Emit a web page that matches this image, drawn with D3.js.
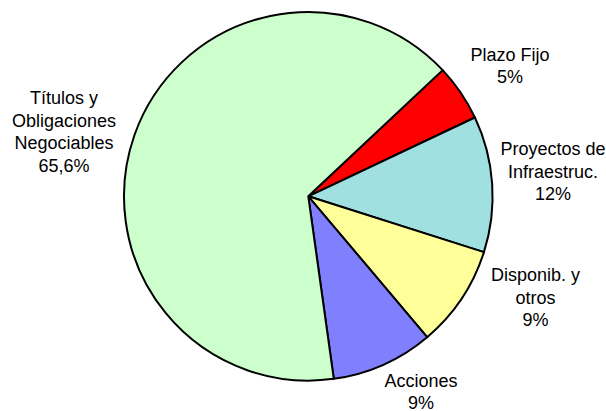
<!DOCTYPE html>
<html>
<head>
<meta charset="utf-8">
<script src="https://cdn.jsdelivr.net/npm/d3@7/dist/d3.min.js"></script>
<style>
  html, body { margin: 0; padding: 0; background: #ffffff; }
  svg { display: block; }
  text { font-family: "Liberation Sans", Arial, sans-serif; font-size: 18px; fill: #000; }
</style>
</head>
<body>
<svg id="chart" width="606" height="411"></svg>
<script>
// Portfolio composition (percent)
const categories = ["Plazo Fijo", "Proyectos de Infraestruc.", "Disponib. y otros", "Acciones", "Títulos y Obligaciones Negociables"];
const values = [5, 12, 9, 9, 65.6];
const valueLabels = ["5%", "12%", "9%", "9%", "65,6%"];
const labelLines = [
  ["Plazo Fijo"],
  ["Proyectos de", "Infraestruc."],
  ["Disponib. y", "otros"],
  ["Acciones"],
  ["Títulos y", "Obligaciones", "Negociables"]
];
const colors = ["#ff0000", "#a0e0e0", "#ffff99", "#8080ff", "#ccffcc"];

const svg = d3.select("#chart");
const cx = 308.3, cy = 196.3, radius = 184.3;
const start = 46.8 * Math.PI / 180;

const pie = d3.pie().sort(null).value(d => d)
  .startAngle(start).endAngle(start + 2 * Math.PI);
const arc = d3.arc().innerRadius(0).outerRadius(radius);

const g = svg.append("g").attr("transform", `translate(${cx},${cy})`);
g.selectAll("path.slice")
  .data(pie(values))
  .join("path")
  .attr("class", "slice")
  .attr("d", arc)
  .attr("fill", (d, i) => colors[i])
  .attr("stroke", "#000")
  .attr("stroke-width", 2)
  .attr("stroke-linejoin", "round");

// Label anchor: centre x, first baseline and line spacing for each slice's label block
const labelPos = [
  [510, 60.5, 22.5],
  [553, 155, 22.5],
  [535.5, 281, 22.5],
  [421, 386.5, 22],
  [64, 104, 22.5]
];

labelPos.forEach((p, i) => {
  const lines = labelLines[i].concat([valueLabels[i]]);
  const t = svg.append("text")
    .attr("text-anchor", "middle");
  lines.forEach((s, k) => {
    t.append("tspan")
      .attr("x", p[0])
      .attr("y", p[1] + k * p[2])
      .text(s);
  });
});
</script>
</body>
</html>
